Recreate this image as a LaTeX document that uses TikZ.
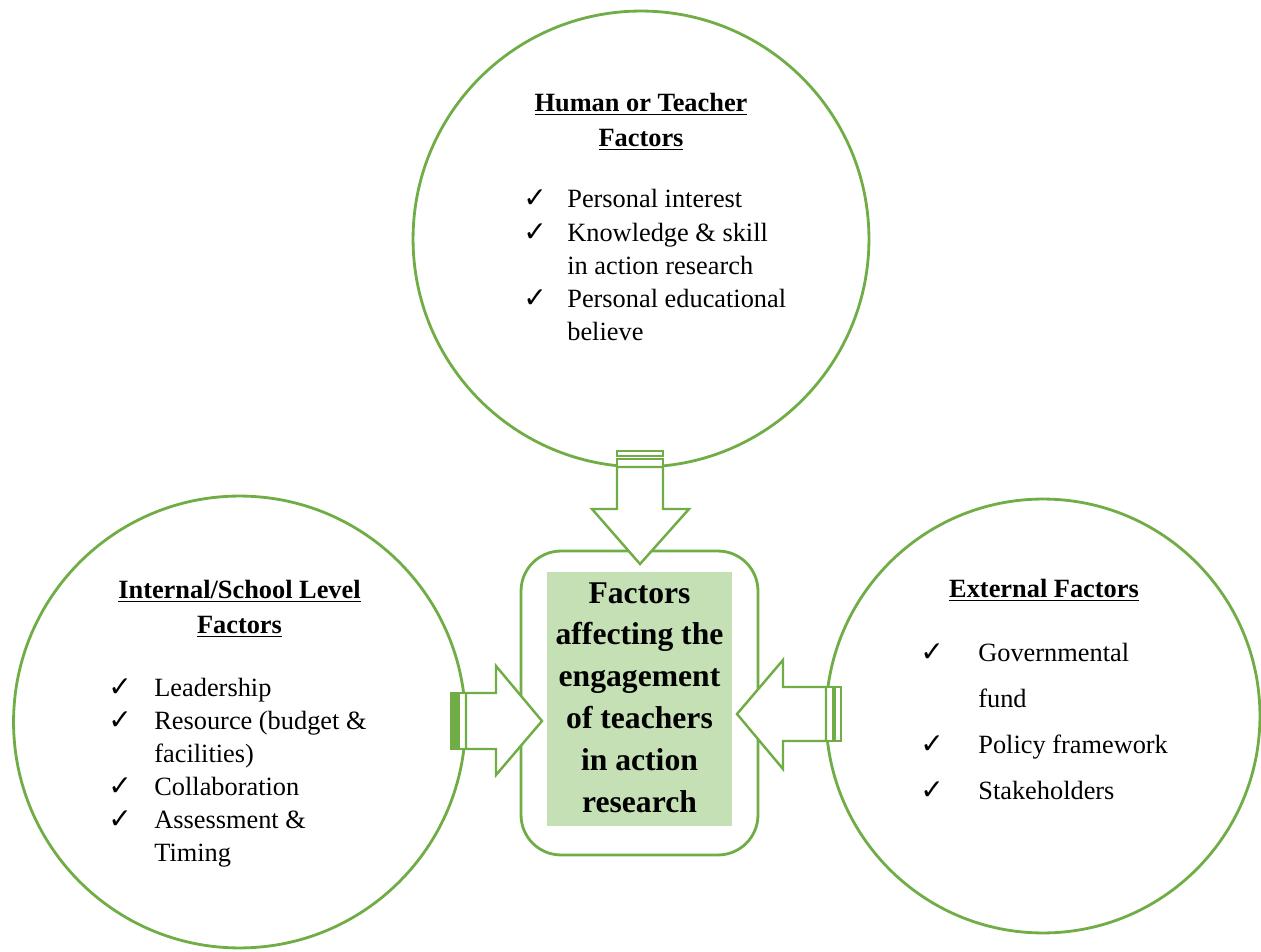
\documentclass[tikz,border=0pt]{standalone}
\usepackage{fontspec}
\setmainfont{Liberation Serif}
\newfontfamily\tickfont{DejaVu Sans}
\usetikzlibrary{positioning}
\definecolor{leafgreen}{HTML}{70AD47}
\definecolor{palegreen}{HTML}{C5E0B4}

\newcommand{\tick}{{\tickfont\bfseries\fontsize{16}{16}\selectfont ✓}}
\newcommand{\headline}[1]{\underline{\smash{#1}}}

\begin{document}
\begin{tikzpicture}[x=0.02cm,y=-0.02cm,
    factor/.style={draw=leafgreen,line width=1.6pt,circle,inner sep=0pt},
    blockarrow/.style={draw=leafgreen,line width=1.4pt,fill=white,line join=miter},
    heading/.style={inner sep=0pt,anchor=base,font=\fontsize{15}{19.9}\selectfont\bfseries},
    items/.style={inner sep=0pt,anchor=base west,font=\fontsize{15}{18.8}\selectfont},
  ]
    \useasboundingbox (0,0) rectangle (1261,952);

    % the three groups of factors
    \node[factor,minimum size=9.12cm] (human) at (641,239) {};
    \node[factor,minimum size=9.04cm] (school) at (239.5,722) {};
    \node[factor,minimum size=8.68cm] (external) at (1043,716) {};

    % centre box
    \node[draw=leafgreen,line width=1.6pt,rounded corners=0.8cm,
          minimum width=4.74cm,minimum height=6.08cm] (core) at (639.5,703) {};
    \node[fill=palegreen,minimum width=3.7cm,minimum height=5.08cm] (corefill) at (639.5,699) {};
    \node[inner sep=0pt,anchor=base,font=\fontsize{18}{23.9}\selectfont\bfseries] (title) at (639.5,603)
      {\begin{tabular}[t]{@{}c@{}}Factors\\affecting the\\engagement\\of teachers\\in action\\research\end{tabular}};

    % human / teacher factors
    \node[heading] (humanhead) at (641,112)
      {\begin{tabular}[t]{@{}c@{}}\headline{Human or Teacher}\\\headline{Factors}\end{tabular}};
    \node[items] (humanlist) at (523,208)
      {\begin{tabular}[t]{@{}p{0.88cm}@{}l@{}}
        \tick & Personal interest\\
        \tick & Knowledge \& skill\\
              & in action research\\
        \tick & Personal educational\\
              & believe
      \end{tabular}};

    % internal / school level factors
    \node[heading] (schoolhead) at (239.5,599)
      {\begin{tabular}[t]{@{}c@{}}\headline{Internal/School Level}\\\headline{Factors}\end{tabular}};
    \node[items] (schoollist) at (108,696)
      {\begin{tabular}[t]{@{}p{0.92cm}@{}l@{}}
        \tick & Leadership\\
        \tick & Resource (budget \&\\
              & facilities)\\
        \tick & Collaboration\\
        \tick & Assessment \&\\
              & Timing
      \end{tabular}};

    % external factors
    \node[heading] (externalhead) at (1044,598) {\headline{External Factors}};
    \node[items,font=\fontsize{15}{26.2}\selectfont] (externallist) at (920,661)
      {\begin{tabular}[t]{@{}p{1.16cm}@{}l@{}}
        \tick & Governmental\\
              & fund\\
        \tick & Policy framework\\
        \tick & Stakeholders
      \end{tabular}};

    % striped block arrows into the centre box
    \draw[blockarrow] (617,451) rectangle (663,456);
    \draw[blockarrow] (617,459) rectangle (663,467);
    \draw[blockarrow] (617,467) -- (617,509) -- (592,509) -- (640,564)
        -- (689,509) -- (663,509) -- (663,467) -- cycle;

    \draw[blockarrow,fill=leafgreen] (451,693) rectangle (457,749);
    \draw[blockarrow] (459,693) rectangle (466,749);
    \draw[blockarrow] (466,693) -- (496,693) -- (496,666) -- (542,721)
        -- (496,775) -- (496,749) -- (466,749) -- cycle;

    \draw[blockarrow] (835,687) rectangle (841,741);
    \draw[blockarrow] (826,687) rectangle (833,741);
    \draw[blockarrow] (826,687) -- (783,687) -- (783,660) -- (737,714)
        -- (783,769) -- (783,741) -- (826,741) -- cycle;
\end{tikzpicture}
\end{document}
